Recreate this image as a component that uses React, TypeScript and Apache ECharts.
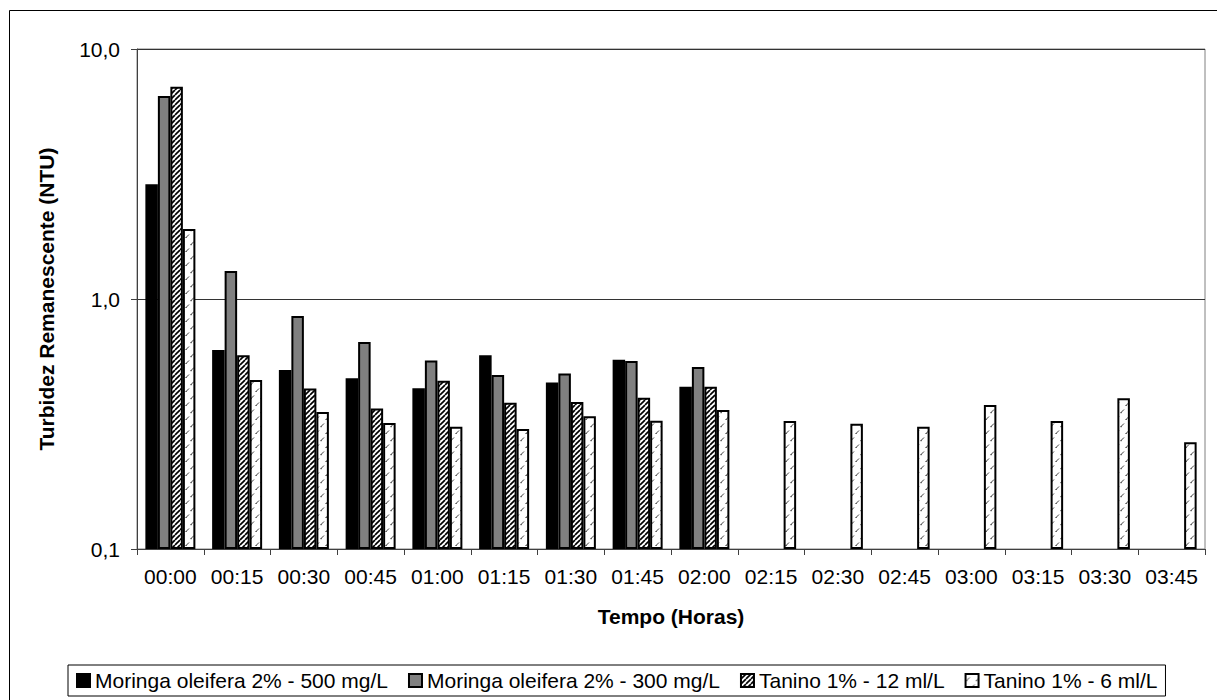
import { useEffect, useRef } from 'react';
import * as echarts from 'echarts';

const categories = ['00:00', '00:15', '00:30', '00:45', '01:00', '01:15', '01:30', '01:45', '02:00', '02:15', '02:30', '02:45', '03:00', '03:15', '03:30', '03:45'];
const seriesNames = ['Moringa oleifera 2% - 500 mg/L', 'Moringa oleifera 2% - 300 mg/L', 'Tanino 1% - 12 ml/L', 'Tanino 1% - 6 ml/L'];
const moringa500 = [2.88, 0.625, 0.52, 0.482, 0.44, 0.596, 0.463, 0.572, 0.446, null, null, null, null, null, null, null];
const moringa300 = [6.49, 1.294, 0.855, 0.673, 0.567, 0.497, 0.503, 0.565, 0.535, null, null, null, null, null, null, null];
const tanino12 = [7.07, 0.596, 0.439, 0.365, 0.471, 0.385, 0.387, 0.403, 0.446, null, null, null, null, null, null, null];
const tanino6 = [1.905, 0.474, 0.353, 0.319, 0.308, 0.302, 0.34, 0.326, 0.36, 0.325, 0.317, 0.308, 0.377, 0.325, 0.401, 0.267];
const yMin = 0.1;
const yMax = 10;

const FONT = '"Liberation Sans", Arial, sans-serif';

function hatchCanvas(): HTMLCanvasElement {
  const c = document.createElement('canvas');
  const s = 5;
  c.width = s;
  c.height = s;
  const ctx = c.getContext('2d')!;
  ctx.fillStyle = '#fff';
  ctx.fillRect(0, 0, s, s);
  ctx.strokeStyle = '#000';
  ctx.lineWidth = 1.7;
  for (let k = -1; k <= 1; k++) {
    ctx.beginPath();
    ctx.moveTo(k * s, s);
    ctx.lineTo(k * s + s, 0);
    ctx.stroke();
  }
  return c;
}

function dashCanvas(): HTMLCanvasElement {
  const c = document.createElement('canvas');
  const w = 10;
  const h = 14;
  c.width = w;
  c.height = h;
  const ctx = c.getContext('2d')!;
  ctx.fillStyle = '#fff';
  ctx.fillRect(0, 0, w, h);
  ctx.strokeStyle = '#444';
  ctx.lineWidth = 1;
  ctx.beginPath();
  ctx.moveTo(1.5, 6);
  ctx.lineTo(4, 3.5);
  ctx.moveTo(6.5, 13);
  ctx.lineTo(9, 10.5);
  ctx.stroke();
  ctx.fillStyle = '#222';
  ctx.fillRect(0.5, 6, 1.2, 1.2);
  ctx.fillRect(5.5, 13, 1.2, 1);
  return c;
}

export default function App() {
  const ref = useRef<HTMLDivElement>(null);
  useEffect(() => {
    if (!ref.current) return;
    const chart = echarts.init(ref.current, null, { renderer: 'svg' });
    const hatch = { image: hatchCanvas(), repeat: 'repeat' };
    const dash = { image: dashCanvas(), repeat: 'repeat' };
    const colors: any[] = ['#000000', '#808080', hatch, dash];
    const datasets = [moringa500, moringa300, tanino12, tanino6];
    const option: any = {
      animation: false,
      textStyle: { fontFamily: FONT, color: '#000' },
      graphic: [
        {
          type: 'rect',
          shape: { x: 9.5, y: 10.5, width: 1210, height: 700 },
          style: { fill: 'none', stroke: '#000', lineWidth: 1 },
          silent: true,
        },
      ],
      grid: {
        left: 137,
        top: 49,
        width: 1068,
        height: 500,
        show: true,
        borderColor: '#808080',
        borderWidth: 1,
        backgroundColor: 'transparent',
      },
      legend: {
        left: 68,
        top: 665,
        orient: 'horizontal',
        itemWidth: 13,
        itemHeight: 13,
        itemGap: 20,
        padding: [5, 8],
        borderColor: '#000',
        borderWidth: 1,
        icon: 'rect',
        textStyle: { fontFamily: FONT, fontSize: 21, color: '#000' },
        data: seriesNames,
      },
      xAxis: {
        type: 'category',
        data: categories,
        boundaryGap: true,
        name: 'Tempo (Horas)',
        nameLocation: 'middle',
        nameGap: 57,
        nameTextStyle: { fontFamily: FONT, fontSize: 21, fontWeight: 'bold', color: '#000' },
        axisLine: { show: true, lineStyle: { color: '#404040', width: 1 } },
        axisTick: { show: true, inside: false, length: 6, lineStyle: { color: '#404040' } },
        axisLabel: { fontFamily: FONT, fontSize: 21, color: '#000', margin: 17, interval: 0 },
        splitLine: { show: false },
      },
      yAxis: {
        type: 'log',
        logBase: 10,
        min: yMin,
        max: yMax,
        startValue: yMin,
        name: 'Turbidez Remanescente (NTU)',
        nameLocation: 'middle',
        nameGap: 80,
        nameTextStyle: { fontFamily: FONT, fontSize: 21, fontWeight: 'bold', color: '#000' },
        axisLine: { show: true, lineStyle: { color: '#404040', width: 1 } },
        axisTick: { show: true, inside: false, length: 6, lineStyle: { color: '#404040' } },
        minorTick: { show: false },
        axisLabel: {
          fontFamily: FONT,
          fontSize: 21,
          color: '#000',
          margin: 17,
          formatter: (v: number) => v.toFixed(1).replace('.', ','),
        },
        splitLine: { show: true, lineStyle: { color: '#333', width: 1 } },
      },
      series: datasets.map((d, i) => ({
        name: seriesNames[i],
        type: 'bar',
        data: d.map((v) => (v == null ? '-' : v)),
        barWidth: 12.5,
        barGap: '0%',
        itemStyle: { color: colors[i], borderColor: '#000', borderWidth: 2 },
      })),
    };
    chart.setOption(option);
    return () => chart.dispose();
  }, []);
  return (
    <div
      ref={ref}
      style={{ position: 'fixed', left: 0, top: 0, width: 1217, height: 700, background: '#fff' }}
    />
  );
}
